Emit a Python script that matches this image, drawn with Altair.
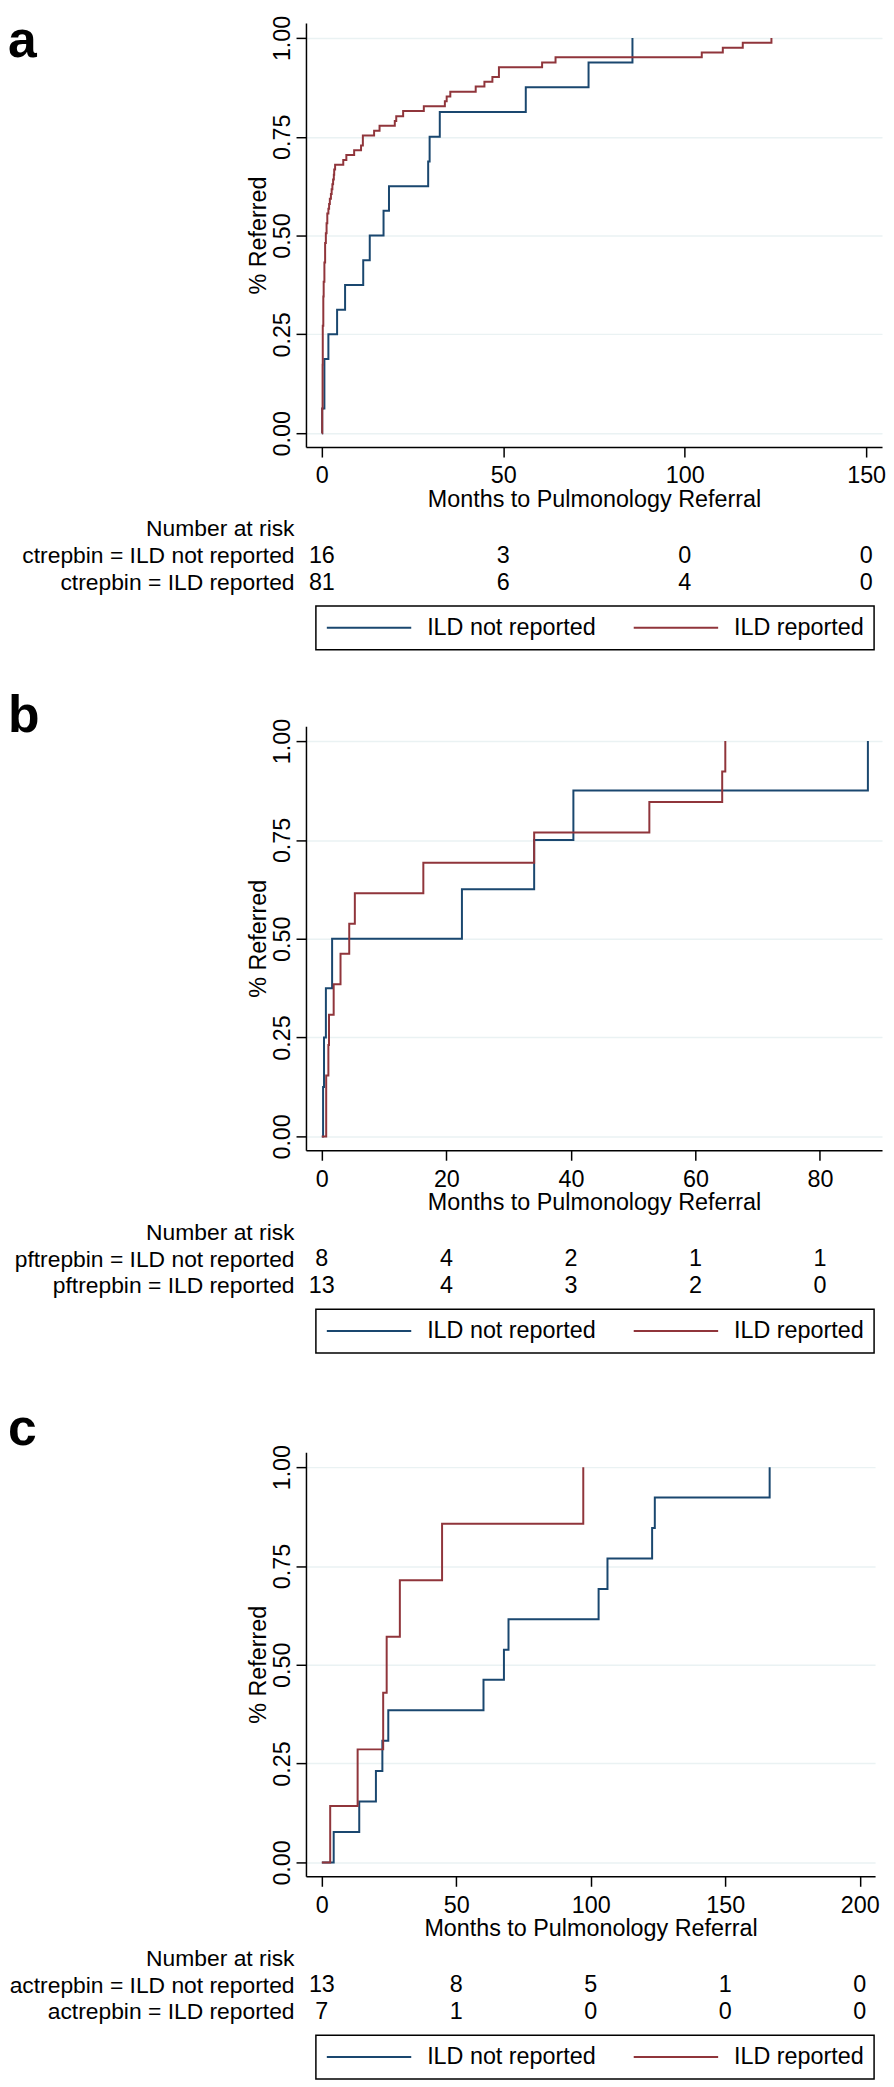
import altair as alt
import pandas as pd

FONT = "Liberation Sans"
LETTER_FONT = "Liberation Sans Narrow, Liberation Sans, sans-serif"
NAVY = "#1a476f"
MAROON = "#90353b"
GRID = "#eaf2f3"
GROUPS = ["ILD not reported", "ILD reported"]
Y_TICKS = [0, 0.25, 0.5, 0.75, 1.0]
Y_DOMAIN = [-0.0352, 1.0377]

# ---------------- Panel a (CT report) ----------------
a_not_t = [0.1, 0.7, 1.8, 4.2, 6.4, 11.4, 13.2, 17.0, 18.5, 29.3, 29.7, 32.5, 56.2, 73.5, 85.6]
a_not_p = [0.0625, 0.1875, 0.25, 0.3125, 0.375, 0.4375, 0.5, 0.5625, 0.625, 0.6875,
           0.75, 0.8125, 0.875, 0.9375, 1.0]
a_rep_t = [0.1, 0.2, 0.25, 0.4, 0.5, 0.7, 0.9, 1.1, 1.3, 1.5, 1.8, 2.0, 2.2, 2.5, 2.7,
           2.9, 3.1, 3.3, 3.4, 3.65, 5.9, 6.75, 8.9, 10.8, 11.3, 14.4, 15.9, 20.1, 20.5,
           22.4, 28.1, 33.9, 34.4, 35.4, 42.4, 44.8, 47.0, 48.8, 60.7, 64.4, 104.7, 110.5,
           116.0, 123.9]
a_rep_p = [0.062, 0.173, 0.272, 0.346, 0.383, 0.432, 0.481, 0.506, 0.531, 0.556, 0.568,
           0.580, 0.593, 0.605, 0.617, 0.630, 0.642, 0.654, 0.667, 0.679, 0.691, 0.704,
           0.716, 0.728, 0.753, 0.765, 0.778, 0.790, 0.802, 0.815, 0.827, 0.840, 0.852,
           0.864, 0.877, 0.889, 0.901, 0.926, 0.938, 0.951, 0.963, 0.975, 0.988, 1.0]
a_ticks = [0, 50, 100, 150]
a_risk_not = [16, 3, 0, 0]
a_risk_rep = [81, 6, 4, 0]
a_xdom = [-4.38, 154.38]

# ---------------- Panel b (PFT report) ----------------
b_not_t = [0.2, 0.35, 0.65, 1.65, 22.5, 34.1, 40.4, 87.7]
b_not_p = [0.125, 0.25, 0.375, 0.5, 0.625, 0.75, 0.875, 1.0]
b_rep_t = [0.7, 1.05, 1.15, 1.9, 3.0, 4.4, 5.3, 16.3, 34.1, 52.6, 64.3, 64.8]
b_rep_p = [0.154, 0.231, 0.308, 0.385, 0.462, 0.538, 0.615, 0.692, 0.769, 0.846, 0.923, 1.0]
b_ticks = [0, 20, 40, 60, 80]
b_risk_not = [8, 4, 2, 1, 1]
b_risk_rep = [13, 4, 3, 2, 0]
b_xdom = [-2.55, 89.97]

# ---------------- Panel c (AC report) ----------------
c_not_t = [4.4, 13.9, 20.1, 22.5, 24.7, 60.1, 67.7, 69.4, 102.9, 106.2, 122.8, 123.8, 166.5]
c_not_p = [0.077, 0.154, 0.231, 0.308, 0.385, 0.462, 0.538, 0.615, 0.692, 0.769, 0.846,
           0.923, 1.0]
c_rep_t = [3.1, 13.3, 22.8, 24.1, 29.0, 44.7, 97.2]
c_rep_p = [0.143, 0.286, 0.429, 0.571, 0.714, 0.857, 1.0]
c_ticks = [0, 50, 100, 150, 200]
c_risk_not = [13, 8, 5, 1, 0]
c_risk_rep = [7, 1, 0, 0, 0]
c_xdom = [-5.91, 205.7]


def curve_df(t_not, p_not, t_rep, p_rep):
    rows = [{"t": 0.0, "p": 0.0, "g": GROUPS[0]}]
    rows += [{"t": t, "p": p, "g": GROUPS[0]} for t, p in zip(t_not, p_not)]
    rows += [{"t": 0.0, "p": 0.0, "g": GROUPS[1]}]
    rows += [{"t": t, "p": p, "g": GROUPS[1]} for t, p in zip(t_rep, p_rep)]
    return pd.DataFrame(rows)


def km_chart(df, xdom, xticks, width, letter, letter_y, letter_baseline):
    lines = alt.Chart(df).mark_line(interpolate="step-after", strokeWidth=2).encode(
        x=alt.X("t:Q", scale=alt.Scale(domain=xdom, nice=False, zero=False),
                axis=alt.Axis(values=xticks, format="d",
                              title="Months to Pulmonology Referral",
                              titleY=59.5, titleBaseline="alphabetic", titleAlign="center",
                              titleFontSize=23.5, titleFont=FONT, titleFontWeight="normal",
                              titleColor="black",
                              labelFontSize=23.5, labelFont=FONT, labelColor="black",
                              labelBaseline="top", labelPadding=7, labelFlush=False,
                              labelOverlap=False,
                              tickSize=10, tickColor="black", tickWidth=1.5,
                              domainColor="black", domainWidth=1.5, grid=False)),
        y=alt.Y("p:Q", scale=alt.Scale(domain=Y_DOMAIN, nice=False, zero=False),
                axis=alt.Axis(values=Y_TICKS, format=".2f", title="% Referred",
                              titleAngle=270, titleX=-41, titleY=213.5, titleAlign="center",
                              titleBaseline="alphabetic", titleFontSize=23.5, titleFont=FONT,
                              titleFontWeight="normal", titleColor="black",
                              labelAngle=270, labelAlign="center", labelBaseline="alphabetic",
                              labelPadding=7, labelFontSize=23.5, labelFont=FONT,
                              labelColor="black", labelFlush=False, labelOverlap=False,
                              tickSize=10, tickColor="black", tickWidth=1.5,
                              domainColor="black", domainWidth=1.5,
                              grid=True, gridColor=GRID, gridWidth=1.5)),
        color=alt.Color("g:N", scale=alt.Scale(domain=GROUPS, range=[NAVY, MAROON]),
                        legend=alt.Legend(title=None, orient="none", legendX=10, legendY=587,
                                          direction="horizontal")),
    )
    tag = alt.Chart(pd.DataFrame({"label": [letter]})).mark_text(
        align="left", baseline=letter_baseline, fontSize=52, font=LETTER_FONT,
        fontWeight="bold", color="black",
    ).encode(x=alt.value(-300), y=alt.value(letter_y), text="label:N")
    return alt.layer(lines, tag).properties(width=width, height=427)


def table_chart(ticks, n_not, n_rep, prefix, xdom, width, height):
    rows = ["Number at risk", f"{prefix} = ILD not reported", f"{prefix} = ILD reported"]
    df = pd.DataFrame({
        "t": ticks + ticks,
        "row": [rows[1]] * len(ticks) + [rows[2]] * len(ticks),
        "n": n_not + n_rep,
    })
    return alt.Chart(df).mark_text(font=FONT, fontSize=23.5, color="black", align="center",
                                   baseline="middle").encode(
        x=alt.X("t:Q", scale=alt.Scale(domain=xdom, nice=False, zero=False), axis=None),
        y=alt.Y("row:N", sort=rows,
                scale=alt.Scale(domain=rows, range=[0, 81], paddingInner=0, paddingOuter=0),
                axis=alt.Axis(title=None, domain=False, ticks=False, tickSize=0,
                              labelPadding=12, labelFont=FONT, labelFontSize=23,
                              labelColor="black", labelLimit=0, labelAlign="right",
                              labelBaseline="middle")),
        text=alt.Text("n:Q", format="d"),
    ).properties(width=width, height=height)


pa = km_chart(curve_df(a_not_t, a_not_p, a_rep_t, a_rep_p), a_xdom, a_ticks, 580,
              "a", -7, "top")
ta = table_chart(a_ticks, a_risk_not, a_risk_rep, "ctrepbin", a_xdom, 580, 143)
pb = km_chart(curve_df(b_not_t, b_not_p, b_rep_t, b_rep_p), b_xdom, b_ticks, 580,
              "b", 6, "alphabetic")
tb = table_chart(b_ticks, b_risk_not, b_risk_rep, "pftrepbin", b_xdom, 580, 166)
pc = km_chart(curve_df(c_not_t, c_not_p, c_rep_t, c_rep_p), c_xdom, c_ticks, 573,
              "c", -7, "alphabetic")
tc = table_chart(c_ticks, c_risk_not, c_risk_rep, "actrepbin", c_xdom, 573, 81)

chart = alt.vconcat(pa, ta, pb, tb, pc, tc, spacing=69, bounds="flush").resolve_scale(
    color="independent", x="independent", y="independent"
).resolve_legend(color="independent").properties(
    padding=0
).configure_view(stroke=None).configure_legend(
    strokeColor="black", strokeWidth=1.5, fillColor="white", padding=10,
    symbolType="stroke", symbolSize=7225, symbolStrokeWidth=2, clipHeight=23.5,
    labelFontSize=23.5, labelFont=FONT, labelColor="black", labelOffset=15,
    columnPadding=37, labelLimit=0,
)

chart.save("out.html", embed_options={"renderer": "svg", "actions": False})
